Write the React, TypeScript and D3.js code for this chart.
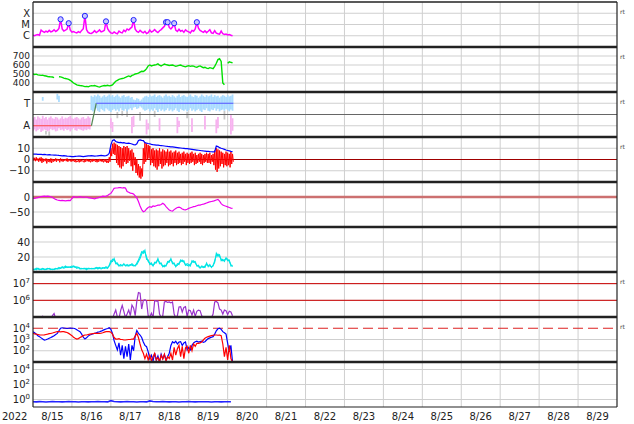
import React from 'react';
import * as d3 from 'd3';

const W = 634, H = 424;
const X0 = 33, X1 = 617;
const PANEL_TOPS = [2, 47, 92, 137, 182, 227, 272, 317, 362];
const PH = 45;
const T0 = Date.UTC(2022, 7, 15);
const T1 = Date.UTC(2022, 7, 30);
const HOUR = 3600e3;

// ---- data (hourly from 2022-08-15 00:00 UTC unless noted) ----
// X-ray flux, units of 1e-6 W/m2
const xray = [
  1.1, 1.0, 1.2, 1.3, 1.1, 3.2, 2.4, 2.0, 2.6, 2.1, 3.0, 2.2,
  2.5, 3.4, 2.4, 3.0, 4.5, 29, 4.0, 2.6, 3.1, 4.0, 13, 3.2,
  2.1, 2.4, 2.0, 1.8, 2.3, 1.9, 3.0, 4.2, 58, 3.5, 2.0, 1.7,
  1.6, 2.0, 2.8, 1.9, 2.4, 3.3, 2.2, 2.5, 3.0, 19, 4.2, 2.5,
  1.8, 1.6, 2.2, 1.7, 1.5, 2.6, 2.0, 1.8, 3.1, 2.3, 4.0, 3.2,
  4.5, 6.0, 25, 3.8, 2.4, 2.0, 3.0, 2.2, 1.8, 2.5, 1.6, 1.9,
  3.2, 2.1, 2.6, 3.6, 2.4, 1.9, 2.8, 3.5, 5.0, 7.0, 16, 16,
  5.5, 4.0, 6.0, 13, 3.2, 2.4, 3.8, 2.5, 3.0, 2.0, 3.3, 2.6,
  2.2, 1.8, 3.0, 2.5, 4.0, 16, 4.8, 3.0, 2.4, 2.0, 2.7, 1.9,
  2.5, 3.4, 1.8, 1.6, 2.8, 1.7, 1.5, 1.4, 2.6, 1.5, 1.3, 1.4,
  1.2, 1.3, 1.1, 1.0,
];
const flareHours = [17, 22, 32, 45, 62, 82, 83, 87, 101];
const flareFlux = [29, 13, 58, 19, 25, 16, 16, 13, 16];
const xrayTicks = [100, 10, 1];
const xrayTickLabels = ['X', 'M', 'C'];

// Solar wind speed km/s
const speed: (number | null)[] = [
  500, 495, 498, 490, 488, 485, 487, 480, 478, 472, 470, 468,
  466, 460, null, null, 470, 468, 462, 455, 450, 445, 440, 430,
  415, 400, 390, 380, 375, 372, 370, 365, 360, 362, 358, 365,
  370, 368, 372, 366, 360, 355, 362, 368, 372, 370, 375, 368,
  372, 378, 400, 420, 430, 440, 445, 450, 455, 462, 470, 478,
  470, 485, 490, 500, 505, 510, 520, 530, 528, 540, 560, 590,
  600, 590, 595, 600, 605, 612, 598, 590, 600, 610, 605, 600,
  595, 598, 600, 592, 585, 590, 595, 600, 590, 585, 580, 588,
  592, 585, 590, 588, 580, 575, 585, 590, 580, 570, 575, 565,
  560, 570, 565, 560, 585, 620, 660, 670, 640, 400, 380, null,
  620, 635, 630, 625,
];
const speedTicks = [700, 600, 500, 400];

// IMF phi angle band (deg): low / high per hour
const phiLo = [
  50, 60, 45, 55, 65, 40, 50, 60, 55, 45, 50, 65,
  55, 60, 45, 50, 70, 55, 60, 50, 65, 55, 60, 45,
  60, 70, 55, 50, 65, 60, 55, 50, 60, 55, 65, 60,
  215, 205, 220, 230, 210, 200, 225, 215, 205, 230, 220, 210,
  200, 215, 225, 210, 220, 205, 230, 215, 210, 225, 205, 220,
  230, 215, 235, 240, 225, 230, 245, 235, 220, 210, 215, 225,
  205, 220, 210, 230, 215, 200, 225, 210, 220, 205, 215, 230,
  210, 220, 205, 215, 230, 210, 200, 225, 215, 210, 220, 205,
  215, 230, 210, 220, 205, 215, 225, 210, 200, 220, 215, 230,
  210, 205, 220, 215, 230, 210, 225, 205, 215, 220, 210, 225,
  215, 205, 220, 210,
];
const phiHi = [
  150, 160, 140, 165, 155, 145, 170, 150, 160, 140, 155, 165,
  150, 145, 160, 155, 140, 150, 165, 145, 155, 150, 160, 170,
  150, 145, 155, 160, 150, 140, 155, 160, 145, 150, 165, 155,
  330, 320, 335, 325, 340, 330, 315, 325, 335, 320, 330, 340,
  325, 335, 320, 330, 340, 325, 315, 330, 335, 320, 325, 330,
  315, 320, 300, 295, 310, 305, 290, 300, 315, 325, 330, 320,
  335, 325, 330, 340, 320, 330, 335, 325, 315, 330, 340, 325,
  330, 320, 335, 325, 315, 330, 340, 320, 330, 335, 325, 320,
  330, 340, 325, 320, 335, 330, 315, 325, 340, 330, 320, 335,
  325, 330, 340, 320, 335, 325, 330, 315, 325, 335, 330, 320,
  335, 325, 330, 340,
];
const phiStrayAway = [[48, 70, 150], [49, 40, 120], [61, 30, 160], [62, 80, 170], [70, 20, 140], [71, 60, 110], [78, 50, 150], [89, 30, 160], [90, 80, 130], [98, 40, 150], [106, 60, 170], [113, 30, 140], [114, 70, 160], [122, 20, 175], [123, 50, 150]];
const phiStrayToward = [[6, 290, 320], [15, 300, 345], [16, 280, 330]];
const phiStrayGray = [[8, 20, 50], [10, 10, 45], [52, 150, 200], [55, 170, 210], [58, 160, 230], [66, 130, 200], [75, 160, 210], [95, 150, 200], [118, 140, 210]];
const sectorHours = [0, 36, 39, 123.5];
const sectorPhi = [90, 90, 270, 270];
const phiTicks = [270, 90];
const phiTickLabels = ['T', 'A'];

// IMF Bt and Bz (nT)
const bt = [
  4.8, 4.7, 4.8, 4.6, 4.5, 4.6, 4.4, 4.5, 4.3, 4.2, 4.3, 4.1,
  4.0, 3.9, 4.0, 3.8, 3.6, 3.5, 3.3, 3.4, 3.2, 3.0, 2.9, 2.8,
  2.6, 2.5, 2.7, 2.9, 3.1, 3.0, 2.8, 2.6, 2.8, 3.0, 3.2, 3.3,
  3.4, 3.2, 3.0, 3.1, 3.3, 3.5, 3.6, 3.4, 3.2, 3.5, 4.0, 5.5,
  13, 17, 17.5, 16, 15.5, 15, 15.2, 14.8, 15, 14.6, 14.4, 14.5,
  14.2, 13.8, 13.2, 13, 14, 17, 17.5, 17, 16.8, 15, 14.5, 14.2,
  14, 13.5, 13.2, 13, 12.8, 12.7, 12.5, 12.4, 12.2, 12, 11.8, 11.6,
  11.5, 11.3, 11.2, 11, 10.8, 10.6, 10.4, 10.2, 10, 9.9, 9.7, 9.6,
  9.4, 9.2, 9, 8.8, 8.6, 8.4, 8.2, 8, 7.8, 7.6, 7.5, 7.3,
  7.2, 7.0, 6.9, 6.8, 7.0, 12, 11.5, 10.5, 10, 9.6, 9, 8.4,
  8, 7.6, 7.2, 7,
];
const bzHi = [
  2, 1.5, 2, 1, 1.5, 2, 1, 0.5, 1, 0.5, 0, 1,
  0.5, 0, 1, 0.5, 0, 1, 0.5, 0, 0.5, 1, 0, -0.5,
  0, -0.5, 0, -1, -0.5, 0, -0.5, -1, 0, 0.5, 0, -0.5,
  0, 0.5, 0, -0.5, 0, 0.5, 0, -0.5, 0, 0, -1, 2,
  10, 14, 15, 14, 13, 12, 11, 10, 12, 11, 12, 10,
  8, 9, 6, 2, 0, -4, -6, -8, 10, 15, 14, 13,
  12, 9, 10, 8, 9, 8, 10, 7, 9, 8, 7, 9,
  7, 8, 6, 7, 8, 6, 7, 5, 6, 7, 5, 6,
  5, 6, 7, 5, 6, 4, 5, 6, 5, 4, 5, 6,
  5, 6, 4, 5, 8, 10, 9, 8, 7, 6, 5, 7,
  6, 5, 7, 5,
];
const bzLo = [
  -1, -1.5, -1, -2, -1.5, -3, -2, -1.5, -3.5, -2, -2.5, -3,
  -2, -1.5, -2, -1, -2.5, -1.5, -2, -1, -1.5, -2, -1, -2,
  -1.5, -2, -2.5, -2, -2.5, -2, -1.5, -2.5, -2, -1.5, -2, -2.5,
  -2, -1.5, -2, -2.5, -2, -1.5, -2, -2.5, -2, -3, -3, -2,
  3, 5, 4, -3, -5, -7, -8, -6, -2, -4, -3, -1,
  -6, -10, -5, -12, -14, -16, -17, -15, -4, -2, 0, 1,
  -5, -3, -6, -7, -9, -6, -4, -8, -6, -5, -3, -6,
  -5, -4, -6, -3, -5, -4, -3, -5, -4, -2, -5, -3,
  -4, -3, -2, -5, -4, -3, -2, -4, -5, -3, -2, -3,
  -3, -4, -2, -5, -9, -11, -8, -6, -4, -7, -5, -6,
  -5, -7, -4, -2,
];
const bTicks = [10, 0, -10];

// Dst-like index (nT)
const dst = [
  -4, -5, -3, -2, 0, 1, 2, 3, 2, 3, 2, 1,
  -2, -5, -8, -10, -11, -12, -11, -12, -13, -12, -11, -12,
  -5, 1, 0, -1, 0, 1, 0, -1, 0, 0, -2, -3,
  -4, -5, -6, -4, -3, -1, 1, 3, 2, 3, 5, 9,
  12, 20, 29, 30, 30, 31, 31, 30, 31, 30, 18, 16,
  13, 12, 10, 4, -3, -15, -30, -42, -49, -47, -40, -35,
  -32, -34, -30, -31, -29, -27, -27, -25, -21, -25, -32, -38,
  -43, -46, -47, -42, -38, -35, -34, -36, -40, -42, -43, -41,
  -38, -36, -34, -32, -31, -29, -27, -27, -25, -24, -22, -20,
  -18, -16, -15, -14, -12, -10, -8, -14, -22, -27, -29, -31,
  -33, -35, -37, -38,
];
const dstTicks = [0, -50];

// Density (cm^-3), two traces
const dens = [
  3, 4, 3, 5, 4, 3, 4, 3, 4, 5, 4, 3,
  4, 3, 4, 5, 4, 5, 6, 5, 6, 7, 6, 7,
  8, 7, 6, 7, 6, 5, 4, 5, 4, 5, 4, 5,
  4, 5, 4, 5, 6, 5, 4, 5, 6, 5, 6, 8,
  12, 17, 16, 13, 10, 9, 8, 9, 10, 9, 8, 9,
  10, 9, 8, 9, 10, 14, 18, 24, 28, 26, 20, 14,
  12, 10, 9, 11, 14, 16, 13, 10, 8, 7, 9, 12,
  15, 16, 13, 10, 8, 9, 12, 14, 16, 13, 10, 9,
  8, 10, 13, 15, 12, 9, 7, 6, 7, 6, 8, 10,
  9, 8, 7, 8, 15, 22, 24, 21, 17, 15, 16, 18,
  17, 14, 10, 7,
];
const dens2 = [
  4, 3, 5, 4, 3, 4, 5, 4, 3, 4, 5, 4,
  3, 4, 5, 4, 6, 5, 7, 6, 8, 6, 7, 6,
  6, 8, 7, 5, 6, 4, 5, 4, 5, 3, 5, 4,
  5, 4, 5, 6, 4, 6, 5, 6, 5, 7, 5, 9,
  15, 14, 18, 11, 12, 8, 10, 8, 11, 8, 10, 8,
  9, 11, 9, 8, 12, 16, 21, 27, 25, 29, 17, 16,
  10, 12, 8, 13, 12, 18, 11, 12, 7, 9, 8, 14,
  13, 18, 11, 12, 7, 11, 10, 16, 14, 15, 9, 11,
  10, 8, 15, 13, 14, 8, 9, 5, 8, 7, 6, 12,
  7, 10, 6, 9, 13, 25, 21, 23, 15, 17, 14, 19,
  15, 16, 8, 9,
];
const densTicks = [40, 20];

// >2 MeV electron fluence
const eflu = [
  5e4, 5e4, 5e4, 5e4, 5e4, 8e4, 1.1e5, 8e4, 5e4, 5e4, 5e4, 8e4,
  1.2e5, 1.6e5, 8e4, 5e4, 5e4, 5e4, 5e4, 5e4, 5e4, 5e4, 5e4, 5e4,
  5e4, 5e4, 5e4, 5e4, 5e4, 5e4, 5e4, 5e4, 5e4, 5e4, 5e4, 5e4,
  5e4, 5e4, 5e4, 5e4, 5e4, 5e4, 5e4, 5e4, 5e4, 5e4, 5e4, 8e4,
  6e4, 8e4, 1.5e5, 2.6e5, 1e5, 8e4, 2.4e5, 5e5, 2.2e5, 9e4, 1.5e5, 2.6e5,
  1.2e5, 5.2e5, 3.5e5, 1.2e5, 9e5, 2.9e6, 2.7e6, 3e5, 1e6, 1.1e6, 9e5, 1.2e5,
  1e5, 1.7e5, 9e4, 9.5e5, 9e5, 9.2e5, 1.5e5, 9e4, 1.2e5, 8e5, 8.5e5, 7.5e5,
  8e5, 7e5, 8e5, 1.5e5, 9e4, 1.2e5, 4e5, 4.2e5, 2e5, 3.8e5, 4.2e5, 1.1e5,
  2.6e5, 2.4e5, 1.3e5, 2.6e5, 1.1e5, 2.2e5, 2.6e5, 2.4e5, 1.2e5, 9e4, 8e4, 7e4,
  6e4, 7e4, 9e4, 1.5e5, 8e5, 8.5e5, 7e5, 3e5, 2.6e5, 1.5e5, 2.6e5, 2.4e5,
  1.4e5, 2.2e5, 2e5, 1.2e5,
];
const efluRefs = [1e7, 1e6];
const efluTicks = [7, 6];

// Electron flux (two satellites)
const fluxBlue = [
  4900, 4000, 3000, 2200, 1800, 1400, 1100, 900, 950, 1100, 1300, 1500,
  1800, 2200, 2800, 3500, 6000, 10000, 11000, 10500, 10000, 9500, 10000, 10500,
  10000, 10000, 9000, 7500, 6000, 5000, 3000, 1600, 1100, 1400, 2000, 2500,
  2800, 3200, 3600, 4000, 4500, 4900, 5500, 6500, 7500, 8500, 9500, 11000,
  8000, 3500, 800, 300, 120, 500, 40, 300, 20, 250, 30, 400,
  15, 300, 100, 2000, 6300, 3500, 2500, 1500, 600, 300, 230, 80,
  20, 40, 12, 60, 15, 35, 10, 50, 20, 45, 15, 30,
  60, 300, 630, 500, 700, 400, 600, 650, 300, 500, 600, 120,
  200, 117, 300, 500, 630, 700, 600, 650, 700, 550, 630, 900,
  1200, 1400, 1600, 1800, 3000, 6000, 9000, 10000, 8000, 5000, 4000, 3000,
  450, 80, 300, 10,
];
const fluxRed = [
  3500, 3200, 3000, 2800, 2600, 2500, 2500, 2600, 2800, 3000, 3300, 3500,
  3800, 4200, 4600, 5000, 5000, 4800, 5000, 5000, 4600, 4200, 3500, 2800,
  2200, 1600, 1300, 1100, 1200, 1500, 1800, 2200, 2500, 2500, 2800, 3000,
  3200, 3400, 3500, 3500, 3600, 3500, 3600, 4000, 4500, 5000, 5000, 5000,
  4500, 3000, 1500, 1100, 1100, 1200, 1000, 1000, 900, 900, 950, 1000,
  1000, 1100, 1100, 2000, 3500, 1500, 400, 120, 60, 20, 50, 15,
  40, 12, 30, 60, 15, 25, 10, 40, 18, 50, 12, 30,
  20, 60, 15, 200, 40, 150, 300, 30, 250, 20, 180, 250,
  60, 300, 100, 400, 250, 460, 450, 500, 600, 900, 1300, 1600,
  1800, 2000, 2200, 2400, 2500, 2500, 2400, 2500, 2200, 400, 30, 200,
  15, 300, 20, 10,
];
const fluxRef = 1e4;
const fluxTicks = [4, 3, 2];

// Proton flux, every 2 hours
const proton = [
  0.5, 0.48, 0.52, 0.5, 0.47, 0.5, 0.53, 0.49, 0.5, 0.48, 0.5, 0.52,
  0.49, 0.5, 0.47, 0.5, 0.51, 0.48, 0.5, 0.49, 0.52, 0.5, 0.5, 0.48,
  0.7, 0.55, 0.5, 0.48, 0.5, 0.52, 0.49, 0.5, 0.47, 0.5, 0.51, 0.48,
  0.65, 0.55, 0.5, 0.49, 0.52, 0.5, 0.48, 0.5, 0.5, 0.47, 0.49, 0.5,
  0.52, 0.5, 0.48, 0.5, 0.49, 0.51, 0.5, 0.47, 0.5, 0.49, 0.48, 0.5,
  0.49, 0.5,
];
const protonTicks = [4, 2, 0];

const rtPanels = [0, 1, 2, 3, 6, 7];

// ---- scales ----
const x = d3.scaleUtc().domain([T0, T1]).range([X0, X1]);
const tH = (h: number) => new Date(T0 + h * HOUR);
const rng = (k: number): [number, number] => [PANEL_TOPS[k] + PH, PANEL_TOPS[k]];
const yX = d3.scaleLog().domain([0.1, 1000]).range(rng(0));
const yV = d3.scaleLinear().domain([300, 800]).range(rng(1));
const yPhi = d3.scaleLinear().domain([0, 360]).range(rng(2));
const yB = d3.scaleLinear().domain([-20, 20]).range(rng(3));
const yDst = d3.scaleLinear().domain([-100, 50]).range(rng(4));
const yN = d3.scaleLinear().domain([0, 60]).range(rng(5));
const yE = d3.scaleLog().domain([1e5, 5e7]).range(rng(6));
const yF = d3.scaleLog().domain([10, 1e5]).range(rng(7));
const yP = d3.scaleLog().domain([0.1, 1e5]).range(rng(8));

function linePath(vals: (number | null)[], y: (v: number) => number, step = 1) {
  const gen = d3.line<number | null>()
    .defined((d) => d != null)
    .x((_, i) => x(tH(i * step)))
    .y((d) => y(d as number));
  return gen(vals) || '';
}

const FONT = 'DejaVu Sans, sans-serif';
const GRID = '#cfcfcf';

function Pow10({ y, e }: { y: number; e: number }) {
  return (
    <text x={30} y={y} textAnchor="end" fontSize={10} fontFamily={FONT} fill="#222" dy="0.35em">
      10<tspan fontSize={7} dy={-4}>{e}</tspan>
    </text>
  );
}

export default function App() {
  const days = d3.utcDay.range(new Date(T0), new Date(T1));
  const dayLines = d3.utcDay.range(new Date(T0 + 86400e3), new Date(T1));
  const fmt = d3.utcFormat('%-m/%-d');

  const hgrid = (k: number, ys: number[], color = GRID, w = 1) =>
    ys.map((yy, i) => (
      <line key={`g${k}-${i}`} x1={X0} x2={X1} y1={yy} y2={yy} stroke={color} strokeWidth={w} />
    ));
  const label = (yy: number, t: string, key: string, fs = 10) => (
    <text key={key} x={30} y={yy} textAnchor="end" fontSize={fs} fontFamily={FONT} fill="#222" dy="0.35em">{t}</text>
  );

  const bzPts: [number, number][] = [];
  bzHi.forEach((v, i) => {
    bzPts.push([i, v]);
    bzPts.push([i + 0.5, bzLo[i]]);
  });
  const bzPath = d3.line<[number, number]>().x((d) => x(tH(d[0]))).y((d) => yB(d[1]))(bzPts) || '';

  const sectorPts = sectorHours.map((h, i) => [h, sectorPhi[i]] as [number, number]);
  const segPath = (pts: [number, number][]) =>
    d3.line<[number, number]>().x((d) => x(tH(d[0]))).y((d) => yPhi(d[1]))(pts) || '';

  const band = (h: number, lo: number, hi: number, color: string, key: string) => (
    <rect key={key} x={x(tH(h)) - 0.9} width={1.8} y={yPhi(hi)} height={yPhi(lo) - yPhi(hi)} fill={color} />
  );

  return (
    <svg width={W} height={H} style={{ position: 'absolute', left: 0, top: 0, background: '#fff' }}>
      <defs>
        {PANEL_TOPS.map((t, k) => (
          <clipPath id={`cp${k}`} key={k}>
            <rect x={X0} y={t} width={X1 - X0} height={PH} />
          </clipPath>
        ))}
      </defs>
      <rect x={0} y={0} width={W} height={H} fill="#fff" />

      {/* vertical day grid */}
      {dayLines.map((d, i) => (
        <line key={`v${i}`} x1={x(d)} x2={x(d)} y1={PANEL_TOPS[0]} y2={PANEL_TOPS[8] + PH} stroke={GRID} strokeWidth={1} />
      ))}

      {/* horizontal grids */}
      {hgrid(0, xrayTicks.map((v) => yX(v)))}
      {hgrid(1, speedTicks.map((v) => yV(v)))}
      {hgrid(2, phiTicks.map((v) => yPhi(v)))}
      {hgrid(3, [yB(10), yB(-10)])}
      {hgrid(4, [yDst(-50)])}
      {hgrid(5, densTicks.map((v) => yN(v)))}
      {hgrid(6, efluRefs.map((v) => yE(v)))}
      {hgrid(7, [yF(1e3), yF(1e2)])}
      {hgrid(8, protonTicks.map((e) => yP(Math.pow(10, e))))}

      {/* panel 1: X-ray */}
      <g clipPath="url(#cp0)">
        <path d={linePath(xray, yX)} fill="none" stroke="#ff00ff" strokeWidth={1.5} />
      </g>
      {flareHours.map((h, i) => (
        <circle key={`f${i}`} cx={x(tH(h))} cy={yX(flareFlux[i])} r={2.6} fill="#c8c8ff" stroke="#2222ff" strokeWidth={1} />
      ))}

      {/* panel 2: speed */}
      <g clipPath="url(#cp1)">
        <path d={linePath(speed, yV)} fill="none" stroke="#00e000" strokeWidth={1.4} />
      </g>

      {/* panel 3: phi */}
      <g clipPath="url(#cp2)">
        {phiStrayGray.map((s, i) => band(s[0], s[1], s[2], '#c8c8c8', `pg${i}`))}
        {phiLo.map((lo, i) => band(i, lo, phiHi[i], i < 36 ? '#f7b2ef' : '#aadcff', `pb${i}`))}
        {phiStrayAway.map((s, i) => band(s[0], s[1], s[2], '#f7b2ef', `pa${i}`))}
        {phiStrayToward.map((s, i) => band(s[0], s[1], s[2], '#aadcff', `pt${i}`))}
        <line x1={X0} x2={X1} y1={yPhi(180)} y2={yPhi(180)} stroke="#666" strokeWidth={1} />
        <path d={segPath(sectorPts.slice(0, 2))} fill="none" stroke="#ff4444" strokeWidth={1.2} />
        <path d={segPath(sectorPts.slice(1, 3))} fill="none" stroke="#558855" strokeWidth={1.2} />
        <path d={segPath(sectorPts.slice(2, 4))} fill="none" stroke="#5555ff" strokeWidth={1.2} />
      </g>

      {/* panel 4: Bt / Bz */}
      <g clipPath="url(#cp3)">
        <line x1={X0} x2={X1} y1={yB(0)} y2={yB(0)} stroke="#a00000" strokeWidth={1} />
        <path d={bzPath} fill="none" stroke="#ff0000" strokeWidth={1} />
        <path d={linePath(bt, yB)} fill="none" stroke="#0000ff" strokeWidth={1.2} />
      </g>

      {/* panel 5: Dst */}
      <g clipPath="url(#cp4)">
        <line x1={X0} x2={X1} y1={yDst(0)} y2={yDst(0)} stroke="#cc7070" strokeWidth={2.5} />
        <path d={linePath(dst, yDst)} fill="none" stroke="#ee00ee" strokeWidth={1.2} />
      </g>

      {/* panel 6: density */}
      <g clipPath="url(#cp5)">
        <path d={linePath(dens2, yN)} fill="none" stroke="#00e5e5" strokeWidth={1.1} />
        <path d={linePath(dens, yN)} fill="none" stroke="#00e5e5" strokeWidth={1.1} />
      </g>

      {/* panel 7: electron fluence */}
      <g clipPath="url(#cp6)">
        {efluRefs.map((v, i) => (
          <line key={`er${i}`} x1={X0} x2={X1} y1={yE(v)} y2={yE(v)} stroke="#cc0000" strokeWidth={1} />
        ))}
        <path d={linePath(eflu, yE)} fill="none" stroke="#9933cc" strokeWidth={1.2} />
      </g>

      {/* panel 8: flux */}
      <g clipPath="url(#cp7)">
        <line x1={X0} x2={X1} y1={yF(fluxRef)} y2={yF(fluxRef)} stroke="#dd2222" strokeWidth={1.2} strokeDasharray="10,5" />
        <path d={linePath(fluxBlue, yF)} fill="none" stroke="#0000ff" strokeWidth={1.2} />
        <path d={linePath(fluxRed, yF)} fill="none" stroke="#ff0000" strokeWidth={1.2} />
      </g>

      {/* panel 9: proton */}
      <g clipPath="url(#cp8)">
        <path d={linePath(proton, yP, 2)} fill="none" stroke="#2222ff" strokeWidth={1.6} />
      </g>

      {/* separators & borders */}
      {PANEL_TOPS.slice(1).map((t, i) => (
        <line key={`s${i}`} x1={X0} x2={X1} y1={t} y2={t} stroke="#222" strokeWidth={2.4} />
      ))}
      <line x1={X0} x2={X1} y1={PANEL_TOPS[0]} y2={PANEL_TOPS[0]} stroke="#222" strokeWidth={1.5} />
      <line x1={X0} x2={X1} y1={PANEL_TOPS[8] + PH} y2={PANEL_TOPS[8] + PH} stroke="#222" strokeWidth={1.2} />
      <line x1={X0} x2={X0} y1={PANEL_TOPS[0]} y2={PANEL_TOPS[8] + PH} stroke="#222" strokeWidth={1.2} />
      <line x1={X1} x2={X1} y1={PANEL_TOPS[0]} y2={PANEL_TOPS[8] + PH} stroke="#222" strokeWidth={1.2} />

      {/* y labels */}
      {xrayTicks.map((v, i) => label(yX(v), xrayTickLabels[i], `lx${i}`))}
      {speedTicks.map((v, i) => label(yV(v), String(v), `lv${i}`, 9))}
      {phiTicks.map((v, i) => label(yPhi(v), phiTickLabels[i], `lp${i}`))}
      {bTicks.map((v, i) => label(yB(v), v < 0 ? `\u2212${-v}` : String(v), `lb${i}`))}
      {dstTicks.map((v, i) => label(yDst(v), v < 0 ? `\u2212${-v}` : String(v), `ld${i}`))}
      {densTicks.map((v, i) => label(yN(v), String(v), `ln${i}`))}
      {efluTicks.map((e, i) => <Pow10 key={`le${i}`} y={yE(Math.pow(10, e))} e={e} />)}
      {fluxTicks.map((e, i) => <Pow10 key={`lf${i}`} y={yF(Math.pow(10, e))} e={e} />)}
      {protonTicks.map((e, i) => <Pow10 key={`lq${i}`} y={yP(Math.pow(10, e))} e={e} />)}

      {/* rt markers */}
      {rtPanels.map((k) => (
        <text key={`rt${k}`} x={620} y={PANEL_TOPS[k] + 9.5} fontSize={6} fontFamily={FONT} fill="#444" dy="0.35em">rt</text>
      ))}

      {/* x labels */}
      <text x={2} y={420} fontSize={10} fontFamily={FONT} fill="#222">2022</text>
      {days.map((d, i) => (
        <text key={`d${i}`} x={x(new Date(d.getTime() + 12 * HOUR))} y={420} textAnchor="middle" fontSize={10} fontFamily={FONT} fill="#222">{fmt(d)}</text>
      ))}
    </svg>
  );
}
